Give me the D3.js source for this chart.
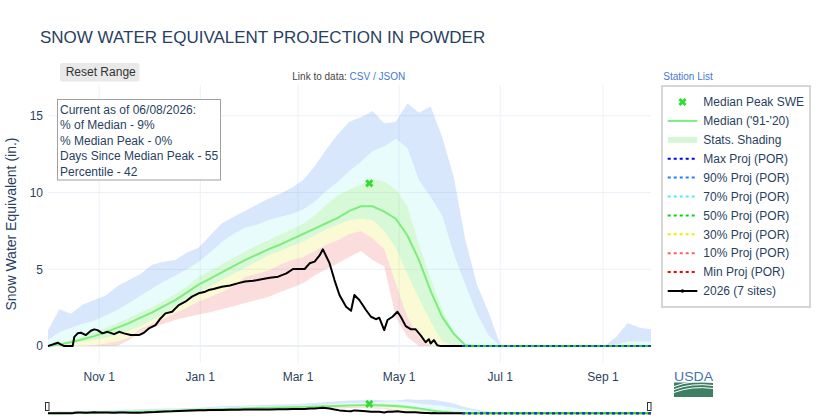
<!DOCTYPE html>
<html>
<head>
<meta charset="utf-8">
<script src="https://cdn.jsdelivr.net/npm/d3@7"></script>
<style>
  body { margin: 0; background: #fff; }
  svg text { font-family: "Liberation Sans", Arial, sans-serif; }
</style>
</head>
<body>
<div id="chart"></div>
<script>
// weekly statistics dates (water year Oct 1 - Sep 30)
const weekDates = [
  "2025-10-01","2025-10-08","2025-10-15","2025-10-22","2025-10-29",
  "2025-11-05","2025-11-12","2025-11-19","2025-11-26",
  "2025-12-03","2025-12-10","2025-12-17","2025-12-24","2025-12-31",
  "2026-01-07","2026-01-14","2026-01-21","2026-01-28",
  "2026-02-04","2026-02-11","2026-02-18","2026-02-25",
  "2026-03-04","2026-03-11","2026-03-18","2026-03-25",
  "2026-04-01","2026-04-08","2026-04-15","2026-04-22","2026-04-29",
  "2026-05-06","2026-05-13","2026-05-20","2026-05-27",
  "2026-06-03","2026-06-10","2026-06-17","2026-06-24",
  "2026-07-01","2026-07-08","2026-07-15","2026-07-22","2026-07-29",
  "2026-08-05","2026-08-12","2026-08-19","2026-08-26",
  "2026-09-02","2026-09-09","2026-09-16","2026-09-23","2026-09-30"
];
const maxSwe = [1.0,2.4,2.1,2.7,3.0, 3.3,3.9,4.3,4.7, 5.3,5.5,5.6,6.1,6.4, 7.2,8.0,8.4,8.8, 9.2,9.6,9.9,10.3,
  10.8,11.7,12.8,13.8, 14.6,14.9,15.3,14.5,14.6, 15.8,15.2,15.6,13.6, 11.0,6.9,4.0,2.2, 0.1,0,0,0,0, 0,0,0,0, 0,0.6,1.5,1.2,1.1];
const p90 = [0.4,0.9,1.2,1.45,1.65, 2.0,2.35,2.8,3.3, 3.75,4.2,4.6,5.0,5.5, 6.1,6.8,7.3,7.7, 7.9,8.2,8.4,8.6,
  8.9,9.4,10.1,10.7, 11.4,12.0,12.7,13.0,13.5, 12.9,10.8,9.7,8.5, 6.0,4.0,2.1,0.7, 0,0,0,0,0, 0,0,0,0, 0,0.1,0.3,0.3,0.3];
const p70 = [0,0.2,0.4,0.65,0.9, 1.2,1.5,1.85,2.2, 2.55,2.95,3.4,3.9,4.5, 4.9,5.35,5.75,6.15, 6.55,6.9,7.25,7.6,
  7.95,8.5,9.2,9.8, 10.2,10.5,10.9,10.7,10.2, 9.1,6.6,4.4,2.4, 0.9,0.1,0,0, 0,0,0,0,0, 0,0,0,0, 0,0,0,0,0];
const median = [0,0.1,0.25,0.45,0.65, 0.9,1.2,1.5,1.85, 2.2,2.6,3.0,3.5,4.0, 4.4,4.8,5.2,5.6, 5.95,6.3,6.6,6.95,
  7.3,7.65,8.0,8.35, 8.8,9.1,9.1,8.75,8.3, 7.2,5.6,3.6,1.9, 0.8,0.05,0,0, 0,0,0,0,0, 0,0,0,0, 0,0,0,0,0];
const p30 = [0,0.05,0.15,0.3,0.4, 0.55,0.75,1.0,1.3, 1.7,2.1,2.6,3.1,3.5, 3.9,4.3,4.7,5.1, 5.5,5.9,6.2,6.5,
  6.8,7.2,7.6,7.9, 8.2,8.3,8.2,7.5,6.4, 4.7,3.1,1.6,0.3, 0,0,0,0, 0,0,0,0,0, 0,0,0,0, 0,0,0,0,0];
const p10 = [0,0,0,0,0.05, 0.15,0.3,0.55,1.15, 1.45,1.8,2.15,2.5,2.9, 3.2,3.5,3.9,4.5, 4.7,4.9,5.3,5.6,
  5.8,6.2,6.6,6.9, 7.3,7.5,7.0,6.3,4.1, 1.9,0.6,0,0, 0,0,0,0, 0,0,0,0,0, 0,0,0,0, 0,0,0,0,0];
const minSwe = [0,0,0,0,0, 0,0,0.4,0.9, 1.2,1.45,1.7,1.9,2.05, 2.2,2.4,2.6,2.8, 3.0,3.2,3.5,3.8,
  4.1,4.6,5.0,5.4, 5.8,6.2,5.6,5.2,1.9, 0.6,0,0,0, 0,0,0,0, 0,0,0,0,0, 0,0,0,0, 0,0,0,0,0];

// current water year (7 sites)
const obsDates = [
  "2025-10-01","2025-10-07","2025-10-09","2025-10-11","2025-10-16","2025-10-17","2025-10-19","2025-10-21",
  "2025-10-24","2025-10-27","2025-10-29","2025-10-31","2025-11-03","2025-11-06","2025-11-10","2025-11-13",
  "2025-11-16","2025-11-20","2025-11-25","2025-11-28","2025-12-01","2025-12-05","2025-12-08","2025-12-11",
  "2025-12-15","2025-12-19","2025-12-23","2025-12-27","2025-12-31","2026-01-04","2026-01-06","2026-01-09",
  "2026-01-14","2026-01-19","2026-01-24","2026-01-28","2026-02-02","2026-02-07","2026-02-12","2026-02-17",
  "2026-02-22","2026-02-26","2026-03-05","2026-03-08","2026-03-11","2026-03-14","2026-03-16","2026-03-20",
  "2026-03-23","2026-03-26","2026-03-30","2026-04-02","2026-04-04","2026-04-07","2026-04-11","2026-04-14",
  "2026-04-17","2026-04-19","2026-04-22","2026-04-24","2026-04-27","2026-04-30","2026-05-02","2026-05-05",
  "2026-05-08","2026-05-11","2026-05-14","2026-05-17","2026-05-19","2026-05-20","2026-05-22","2026-05-24",
  "2026-05-26","2026-06-08"
];
const obsSwe = [
  0,0.22,0.1,0,0,0.6,0.83,0.87,
  0.72,1.0,1.09,1.04,0.83,0.93,0.78,0.93,
  0.83,0.72,0.72,0.87,1.15,1.37,1.8,2.13,
  2.24,2.67,2.89,3.22,3.44,3.54,3.65,3.72,
  3.87,3.95,4.1,4.2,4.25,4.35,4.45,4.52,
  4.74,5.02,5.02,5.39,5.5,5.9,6.3,5.4,
  4.3,3.33,2.56,2.3,3.33,3.0,2.35,1.91,
  1.75,1.85,1.04,1.7,1.91,2.24,1.91,1.3,
  1.1,1.09,0.7,0.25,0.45,0.17,0.39,0.05,
  0,0
];

// projections from today to end of water year
const projDates = ["2026-06-08", "2026-09-30"];
const projMax = [0, 0];
const proj90 = [0, 0];
const proj70 = [0, 0];
const proj50 = [0, 0];
const proj30 = [0, 0];
const proj10 = [0, 0];
const projMin = [0, 0];

const peakDate = "2026-04-13";
const peakSwe = 10.6;

const xTickDates = ["2025-11-01","2026-01-01","2026-03-01","2026-05-01","2026-07-01","2026-09-01"];
const xTickLabels = ["Nov 1","Jan 1","Mar 1","May 1","Jul 1","Sep 1"];
const yTicks = [0, 5, 10, 15];

const infoLines = [
  "Current as of 06/08/2026:",
  "% of Median - 9%",
  "% Median Peak - 0%",
  "Days Since Median Peak - 55",
  "Percentile - 42"
];

const legendLabels = ["Median Peak SWE", "Median ('91-'20)", "Stats. Shading", "Max Proj (POR)",
  "90% Proj (POR)", "70% Proj (POR)", "50% Proj (POR)", "30% Proj (POR)", "10% Proj (POR)",
  "Min Proj (POR)", "2026 (7 sites)"];

// ---------------------------------------------------------------
const parse = d3.utcParse("%Y-%m-%d");
const textColor = "#2a3f5f";
const gridColor = "#ebf0f8";
const linkColor = "#3f78d8";

const svg = d3.select("#chart").append("svg")
  .attr("width", 816).attr("height", 420);

const plotL = 47.8, plotR = 651, plotT = 85, plotB = 363;
const x = d3.scaleUtc()
  .domain([parse("2025-10-01"), parse("2026-09-30")])
  .range([plotL, plotR]);
const y = d3.scaleLinear().domain([-1.1, 17]).range([plotB, plotT]);
const ySlider = d3.scaleLinear().domain([-1.1, 17]).range([414.3, 398.3]);

const stats = weekDates.map((d, i) => ({
  date: parse(d), min: minSwe[i], p10: p10[i], p30: p30[i], med: median[i],
  p70: p70[i], p90: p90[i], max: maxSwe[i]
}));
const obs = obsDates.map((d, i) => ({ date: parse(d), v: obsSwe[i] }));

// semi-transparent fills so the grid shows through, like the original
const bands = [
  { lo: "p90", hi: "max", color: "rgba(100,160,240,0.25)" },
  { lo: "p70", hi: "p90", color: "rgba(150,240,240,0.22)" },
  { lo: "p30", hi: "p70", color: "rgba(100,230,100,0.26)" },
  { lo: "p10", hi: "p30", color: "rgba(230,230,60,0.22)" },
  { lo: "min", hi: "p10", color: "rgba(240,100,100,0.22)" }
];

const projections = [
  { vals: proj70, color: "#5fe6ee", off: 0 },
  { vals: proj30, color: "#eeee00", off: 0 },
  { vals: proj10, color: "#ff5f5f", off: 0 },
  { vals: projMin, color: "#ff0000", off: 0 },
  { vals: proj90, color: "#1e7fff", off: 0 },
  { vals: proj50, color: "#22d022", off: 3 },
  { vals: projMax, color: "#0a3fc0", off: 0 }
];
const projColors = ["#0000ff", "#1e7fff", "#5fe6ee", "#00dd00", "#eeee00", "#ff5f5f", "#ff0000"];

const xMarker = d3.symbol().type(d3.symbolCross).size(42);

// title
svg.append("text").attr("x", 40).attr("y", 43)
  .attr("font-size", 17).attr("fill", textColor)
  .text("SNOW WATER EQUIVALENT PROJECTION IN POWDER");

// grid
const grid = svg.append("g");
grid.selectAll("line.v").data(xTickDates).join("line")
  .attr("x1", d => x(parse(d))).attr("x2", d => x(parse(d)))
  .attr("y1", plotT).attr("y2", plotB)
  .attr("stroke", gridColor).attr("stroke-width", 1);
grid.selectAll("line.h").data(yTicks).join("line")
  .attr("x1", plotL).attr("x2", plotR)
  .attr("y1", d => y(d)).attr("y2", d => y(d))
  .attr("stroke", gridColor).attr("stroke-width", d => d === 0 ? 2 : 1);

// draws the data layers with a given y scale (main plot and range slider)
function drawContent(g, ys) {
  bands.forEach(b => {
    g.append("path").datum(stats)
      .attr("fill", b.color)
      .attr("d", d3.area().x(d => x(d.date)).y0(d => ys(d[b.lo])).y1(d => ys(d[b.hi])));
  });
  g.append("path").datum(stats)
    .attr("fill", "none").attr("stroke", "#7eec7e").attr("stroke-width", 2)
    .attr("d", d3.line().x(d => x(d.date)).y(d => ys(d.med)));
  projections.forEach(p => {
    g.append("path").datum(projDates.map((d, i) => ({ date: parse(d), v: p.vals[i] })))
      .attr("fill", "none").attr("stroke", p.color).attr("stroke-width", 2)
      .attr("stroke-dasharray", "3,3").attr("stroke-dashoffset", p.off)
      .attr("d", d3.line().x(d => x(d.date)).y(d => ys(d.v)));
  });
  g.append("path").datum(obs)
    .attr("fill", "none").attr("stroke", "#000").attr("stroke-width", 2)
    .attr("stroke-linejoin", "round")
    .attr("d", d3.line().x(d => x(d.date)).y(d => ys(d.v)));
  g.append("path").attr("d", xMarker)
    .attr("fill", "#2ee02e")
    .attr("transform", `translate(${x(parse(peakDate))},${ys(peakSwe)}) rotate(45)`);
}

svg.append("clipPath").attr("id", "clip").append("rect")
  .attr("x", plotL).attr("y", plotT).attr("width", plotR - plotL).attr("height", plotB - plotT);
drawContent(svg.append("g").attr("clip-path", "url(#clip)"), y);

// axes labels
svg.append("g").selectAll("text").data(yTicks).join("text")
  .attr("x", 43).attr("y", d => y(d)).attr("dy", "0.35em")
  .attr("text-anchor", "end").attr("font-size", 12).attr("fill", textColor)
  .text(d => d);
svg.append("g").selectAll("text").data(xTickDates).join("text")
  .attr("x", d => x(parse(d))).attr("y", 381)
  .attr("text-anchor", "middle").attr("font-size", 12).attr("fill", textColor)
  .text((d, i) => xTickLabels[i]);
svg.append("text")
  .attr("transform", `translate(16,${(plotT + plotB) / 2}) rotate(-90)`)
  .attr("text-anchor", "middle").attr("font-size", 14).attr("fill", textColor)
  .text("Snow Water Equivalent (in.)");

// info box
const info = svg.append("g");
info.append("rect").attr("x", 57.5).attr("y", 99.5).attr("width", 163).attr("height", 80.5)
  .attr("fill", "#fff").attr("stroke", "#a0a0a0").attr("stroke-width", 1);
info.selectAll("text").data(infoLines).join("text")
  .attr("x", 60).attr("y", (d, i) => 113.5 + i * 15.5)
  .attr("font-size", 12).attr("fill", textColor).text(d => d);

// reset button and links
svg.append("rect").attr("x", 60).attr("y", 63).attr("width", 79.5).attr("height", 18.5)
  .attr("rx", 2).attr("fill", "#e9e9e9");
svg.append("text").attr("x", 65.7).attr("y", 76).attr("font-size", 12).attr("fill", "#333")
  .text("Reset Range");
const link = svg.append("text").attr("x", 292.3).attr("y", 80).attr("font-size", 10).attr("fill", "#444");
link.append("tspan").text("Link to data: ");
link.append("tspan").attr("fill", linkColor).text("CSV");
link.append("tspan").attr("fill", linkColor).text(" / ");
link.append("tspan").attr("fill", linkColor).text("JSON");
svg.append("text").attr("x", 663.3).attr("y", 80).attr("font-size", 10).attr("fill", linkColor)
  .text("Station List");

// legend
const lg = svg.append("g");
lg.append("rect").attr("x", 662).attr("y", 86).attr("width", 148).attr("height", 221)
  .attr("fill", "#fff").attr("stroke", "#d6d6d6").attr("stroke-width", 2);
const rowY = i => 102 + i * 18.9;
const sx0 = 667.7, sx1 = 697.3;
legendLabels.forEach((lab, i) => {
  const yy = rowY(i);
  if (i === 0) {
    lg.append("path").attr("d", xMarker).attr("fill", "#2ee02e")
      .attr("transform", `translate(${(sx0 + sx1) / 2},${yy}) rotate(45)`);
  } else if (i === 1) {
    lg.append("line").attr("x1", sx0).attr("x2", sx1).attr("y1", yy).attr("y2", yy)
      .attr("stroke", "#7eec7e").attr("stroke-width", 2);
  } else if (i === 2) {
    lg.append("rect").attr("x", sx0).attr("y", yy - 3).attr("width", sx1 - sx0).attr("height", 6)
      .attr("fill", "#d6f7d6");
  } else if (i < 10) {
    lg.append("line").attr("x1", sx0).attr("x2", sx1).attr("y1", yy).attr("y2", yy)
      .attr("stroke", projColors[i - 3]).attr("stroke-width", 2).attr("stroke-dasharray", "3,3");
  } else {
    lg.append("line").attr("x1", sx0).attr("x2", sx1).attr("y1", yy).attr("y2", yy)
      .attr("stroke", "#000").attr("stroke-width", 2);
    lg.append("circle").attr("cx", (sx0 + sx1) / 2).attr("cy", yy).attr("r", 1.8).attr("fill", "#000");
  }
  lg.append("text").attr("x", 703.3).attr("y", yy).attr("dy", "0.35em")
    .attr("font-size", 12).attr("fill", textColor).text(lab);
});

// range slider
svg.append("clipPath").attr("id", "clipS").append("rect")
  .attr("x", plotL).attr("y", 397).attr("width", plotR - plotL).attr("height", 18);
drawContent(svg.append("g").attr("clip-path", "url(#clipS)"), ySlider);
[45.5, 647.5].forEach(hx => {
  svg.append("rect").attr("x", hx).attr("y", 402.5).attr("width", 3.5).attr("height", 8)
    .attr("fill", "#fff").attr("stroke", "#333").attr("stroke-width", 1);
});

// USDA logo
const logo = svg.append("g");
logo.append("text").attr("x", 674).attr("y", 380.5).attr("font-size", 12)
  .attr("textLength", 39).attr("lengthAdjust", "spacingAndGlyphs")
  .attr("fill", "#4a70b8").text("USDA");
logo.append("rect").attr("x", 674).attr("y", 382.5).attr("width", 39).attr("height", 14.5)
  .attr("fill", "#3b8062");
[[386.5, 382.5], [389.5, 385.5], [392.5, 388.5]].forEach(([y0, y1]) => {
  logo.append("path")
    .attr("d", `M674,${y0} Q692,${y1 - 3} 713,${y1}`)
    .attr("fill", "none").attr("stroke", "#fff").attr("stroke-width", 1);
});
</script>
</body>
</html>
